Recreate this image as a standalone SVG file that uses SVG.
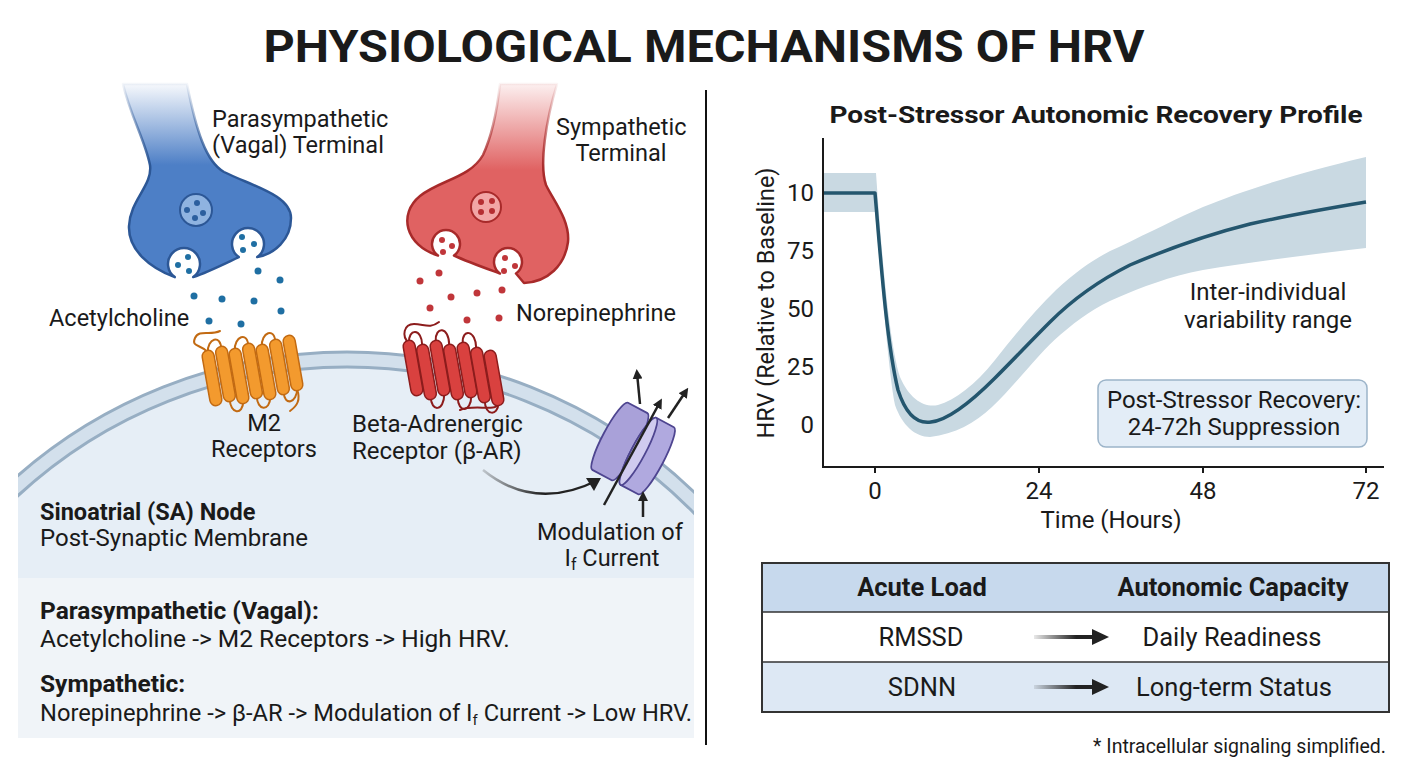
<svg xmlns="http://www.w3.org/2000/svg" width="1408" height="768" viewBox="0 0 1408 768">
<style>
.t{font-family:Roboto,"Liberation Sans",Arial,sans-serif;fill:#1a1a1a}
.l{font-size:23.5px}
.c{font-size:24px}
.b{font-weight:700}
.mid{text-anchor:middle}
.end{text-anchor:end}
.hxO{fill:#f39a2e;stroke:#c26a12;stroke-width:1.5}
.hxR{fill:#d9413f;stroke:#8c1c1c;stroke-width:1.5}
.lpO{fill:none;stroke:#c26a12;stroke-width:2;stroke-linecap:round}
.lpR{fill:none;stroke:#8c1c1c;stroke-width:2;stroke-linecap:round}
.ach{fill:#1f6fa3}
.ne{fill:#c0363a}
.arw{fill:none;stroke:#222;stroke-width:2.5;marker-end:url(#ah)}
.grid{stroke:#1a1a1a;stroke-width:2;fill:none}
.ch{stroke:#4e4590;stroke-width:1.8}
</style>
<defs>
<marker id="ah" viewBox="0 0 10 10" refX="6" refY="5" markerWidth="4" markerHeight="4" orient="auto"><path d="M0,0 L10,5 L0,10 z" fill="#222"/></marker>
<linearGradient id="blueG" gradientUnits="userSpaceOnUse" x1="0" y1="84" x2="0" y2="165"><stop offset="0" stop-color="#4d7fc6" stop-opacity="0.05"/><stop offset="1" stop-color="#4d7fc6"/></linearGradient>
<linearGradient id="blueS" gradientUnits="userSpaceOnUse" x1="0" y1="84" x2="0" y2="165"><stop offset="0" stop-color="#2c5796" stop-opacity="0.05"/><stop offset="1" stop-color="#2c5796"/></linearGradient>
<linearGradient id="redG" gradientUnits="userSpaceOnUse" x1="0" y1="84" x2="0" y2="170"><stop offset="0" stop-color="#e06262" stop-opacity="0.1"/><stop offset="1" stop-color="#e06262"/></linearGradient>
<linearGradient id="redS" gradientUnits="userSpaceOnUse" x1="0" y1="84" x2="0" y2="170"><stop offset="0" stop-color="#a82a2a" stop-opacity="0.05"/><stop offset="1" stop-color="#a82a2a"/></linearGradient>
<linearGradient id="curveG" gradientUnits="userSpaceOnUse" x1="483" y1="0" x2="600" y2="0"><stop offset="0" stop-color="#222" stop-opacity="0.2"/><stop offset="0.5" stop-color="#222"/></linearGradient>
<linearGradient id="tabG" x1="0" y1="0" x2="1" y2="0"><stop offset="0" stop-color="#222" stop-opacity="0.1"/><stop offset="0.7" stop-color="#222"/></linearGradient>
<clipPath id="cellClip"><rect x="18" y="300" width="676" height="278"/></clipPath>
</defs>

<rect width="1408" height="768" fill="#ffffff"/>

<text class="t b mid" x="704" y="62" font-size="44" textLength="881" lengthAdjust="spacingAndGlyphs">PHYSIOLOGICAL MECHANISMS OF HRV</text>

<line x1="706" y1="90" x2="706" y2="745" stroke="#111" stroke-width="2"/>

<!-- Cell -->
<g id="cell">
<g clip-path="url(#cellClip)">
<circle cx="347" cy="852" r="500" fill="#d3e0ec" stroke="#97aec3" stroke-width="3"/>
<circle cx="347" cy="852" r="485" fill="#e6eef6" stroke="#97aec3" stroke-width="3"/>
</g>
<text class="t b" x="40" y="520" font-size="23.5">Sinoatrial (SA) Node</text>
<text class="t" x="40" y="546" font-size="24">Post-Synaptic Membrane</text>
</g>

<!-- Summary panel -->
<g id="summary">
<rect x="18" y="578" width="676" height="160" fill="#f0f4f8"/>
<text class="t b" x="40" y="619" font-size="24.5">Parasympathetic (Vagal):</text>
<text class="t" x="40" y="647" font-size="24.5">Acetylcholine -&gt; M2 Receptors -&gt; High HRV.</text>
<text class="t b" x="40" y="692" font-size="24.5">Sympathetic:</text>
<text class="t" x="40" y="721" font-size="23.7">Norepinephrine -&gt; β-AR -&gt; Modulation of I<tspan font-size="15" dy="4">f</tspan><tspan dy="-4"> Current -&gt; Low HRV.</tspan></text>
</g>

<!-- Parasympathetic terminal -->
<g id="vagal-terminal">
<path d="M123 84 C130 115 145 140 150 165 C153 185 130 200 129 226 C128 250 150 268 174.8 277.1 A16 16 0 1 1 193.2 277.1 C208 272 224 264 238.8 257.1 A16 16 0 1 1 257.2 257.1 C274 254 291 240 291 218 C291 195 252 186 224 172 C206 162 196 130 187 84 Z" fill="url(#blueG)" stroke="url(#blueS)" stroke-width="2.5" stroke-linejoin="round"/>
<circle cx="196" cy="210" r="16" fill="#8fb3e0" stroke="#2c5796" stroke-width="2"/>
<g fill="#2c5f9e"><circle cx="187" cy="210" r="3"/><circle cx="197" cy="203" r="3"/><circle cx="203" cy="213" r="3"/><circle cx="195" cy="218" r="3"/></g>
<g class="ach"><circle cx="178" cy="265" r="3"/><circle cx="188" cy="257" r="3"/><circle cx="189" cy="271" r="3"/><circle cx="242" cy="237" r="3"/><circle cx="254" cy="244" r="3"/><circle cx="243" cy="250" r="3"/></g>
<text class="t l" x="212" y="127">Parasympathetic</text>
<text class="t l" x="212" y="153">(Vagal) Terminal</text>
</g>

<!-- Acetylcholine -->
<g id="acetylcholine">
<g class="ach"><circle cx="194" cy="296" r="3.5"/><circle cx="222" cy="299" r="3.5"/><circle cx="254" cy="301" r="3.5"/><circle cx="280" cy="280" r="3.5"/><circle cx="258" cy="271" r="3.5"/><circle cx="281" cy="311" r="3.5"/><circle cx="209" cy="321" r="3.5"/><circle cx="241" cy="324" r="3.5"/></g>
<text class="t l" x="49" y="326">Acetylcholine</text>
</g>

<!-- Sympathetic terminal -->
<g id="sympathetic-terminal">
<path d="M500 84 C496 120 490 140 483 155 C470 178 440 180 420 196 C398 214 405 245 438 255.5 A14 14 0 1 1 454 255.5 C468 262 485 268 500 273.5 A14 14 0 1 1 516 273.5 L524 283 C548 282 565 265 568 242 C570 220 553 200 546 185 C539 165 546 120 557 84 Z" fill="url(#redG)" stroke="url(#redS)" stroke-width="2.5" stroke-linejoin="round"/>
<circle cx="486" cy="207" r="15" fill="#f2a6a6" stroke="#a82a2a" stroke-width="2"/>
<g fill="#b52e32"><circle cx="481" cy="202" r="3"/><circle cx="492" cy="201" r="3"/><circle cx="481" cy="212" r="3"/><circle cx="492" cy="211" r="3"/></g>
<g class="ne"><circle cx="442" cy="240" r="3"/><circle cx="452" cy="246" r="3"/><circle cx="443" cy="252" r="3"/><circle cx="505" cy="258" r="3"/><circle cx="515" cy="266" r="3"/><circle cx="504" cy="271" r="3"/></g>
<text class="t l" x="556" y="135">Sympathetic</text>
<text class="t l mid" x="621" y="161">Terminal</text>
</g>

<!-- Norepinephrine -->
<g id="norepinephrine">
<g class="ne"><circle cx="420" cy="281" r="3.5"/><circle cx="439" cy="273" r="3.5"/><circle cx="430" cy="308" r="3.5"/><circle cx="451" cy="297" r="3.5"/><circle cx="477" cy="293" r="3.5"/><circle cx="502" cy="290" r="3.5"/><circle cx="467" cy="320" r="3.5"/><circle cx="499" cy="318" r="3.5"/></g>
<text class="t l" x="516" y="321">Norepinephrine</text>
</g>

<!-- M2 receptor -->
<g id="m2-receptor">
<path class="lpO" d="M207.7 352 C200 344 191 347 195 338 C199 329 210 336 220 331"/>
<path class="lpO" d="M207.7 353 C207 338 221 334 221.2 349"/>
<path class="lpO" d="M234.7 351 C234 336 248 331 248.2 346"/>
<path class="lpO" d="M261.7 347 C261 332 275 327 275.2 342"/>
<path class="lpO" d="M229.8 399 C230 414 243 416 243.3 401"/>
<path class="lpO" d="M256.8 396 C257 411 270 412 270.3 397"/>
<path class="lpO" d="M283.8 392 C284 406 297 404 297.3 388"/>
<path class="lpO" d="M297 389 C301 400 297 406 290 411"/>
<rect class="hxO" x="206" y="350" width="12" height="56" rx="6" transform="rotate(-10 212 378)"/>
<rect class="hxO" x="219.5" y="346" width="12" height="56" rx="6" transform="rotate(-10 225.5 374)"/>
<rect class="hxO" x="233" y="348" width="12" height="56" rx="6" transform="rotate(-10 239 376)"/>
<rect class="hxO" x="246.5" y="343" width="12" height="56" rx="6" transform="rotate(-10 252.5 371)"/>
<rect class="hxO" x="260" y="344" width="12" height="56" rx="6" transform="rotate(-10 266 372)"/>
<rect class="hxO" x="273.5" y="339" width="12" height="56" rx="6" transform="rotate(-10 279.5 367)"/>
<rect class="hxO" x="287" y="335" width="12" height="56" rx="6" transform="rotate(-10 293 363)"/>
<text class="t l mid" x="264" y="431">M2</text>
<text class="t l mid" x="264" y="457">Receptors</text>
</g>

<!-- Beta-adrenergic receptor -->
<g id="beta-ar">
<path class="lpR" d="M409 343 C401 336 404 324 414 324 C424 324 430 329 439 322"/>
<path class="lpR" d="M409 343 C408 328 422 328 422.2 345"/>
<path class="lpR" d="M435.7 341 C435 326 449 326 449.2 345"/>
<path class="lpR" d="M462.7 343 C462 328 476 330 476.2 348"/>
<path class="lpR" d="M430.8 397 C431 412 444 412 444.3 394"/>
<path class="lpR" d="M457.8 398 C458 413 471 413 471.3 396"/>
<path class="lpR" d="M484.8 401 C485 416 498 416 498.3 404"/>
<path class="lpR" d="M498 404 C496 412 474 404 460 410"/>
<rect class="hxR" x="407" y="340" width="12" height="56" rx="6" transform="rotate(-10 413 368)"/>
<rect class="hxR" x="420.5" y="344" width="12" height="56" rx="6" transform="rotate(-10 426.5 372)"/>
<rect class="hxR" x="434" y="340" width="12" height="56" rx="6" transform="rotate(-10 440 368)"/>
<rect class="hxR" x="447.5" y="344" width="12" height="56" rx="6" transform="rotate(-10 453.5 372)"/>
<rect class="hxR" x="461" y="342" width="12" height="56" rx="6" transform="rotate(-10 467 370)"/>
<rect class="hxR" x="474.5" y="347" width="12" height="56" rx="6" transform="rotate(-10 480.5 375)"/>
<rect class="hxR" x="488" y="350" width="12" height="56" rx="6" transform="rotate(-10 494 378)"/>
<text class="t" x="352" y="432" font-size="24">Beta-Adrenergic</text>
<text class="t" x="352" y="459" font-size="24">Receptor (β-AR)</text>
</g>

<!-- If channel -->
<g id="if-channel">
<g transform="translate(634 449) rotate(28)">
<path class="ch" d="M-27 -38 H-5 A7 38 0 0 1 -5 38 H-27 A7 38 0 0 1 -27 -38 Z" fill="#a9a1d9"/>
<path class="ch" d="M5 -38 H25 A7 38 0 0 1 25 38 H5 A7 38 0 0 1 5 -38 Z" fill="#b0a9df"/>
<ellipse class="ch" cx="5" cy="0" rx="7" ry="38" fill="#d0cbef"/>
</g>
<text class="t l mid" x="610" y="540">Modulation of</text>
<text class="t l mid" x="612" y="566">I<tspan font-size="16" dy="4">f</tspan><tspan dy="-4"> Current</tspan></text>
</g>

<!-- Chart -->
<g id="chart">
<text class="t b mid" x="1096" y="123" font-size="24" textLength="533" lengthAdjust="spacingAndGlyphs">Post-Stressor Autonomic Recovery Profile</text>
<path d="M823 173 H876 C880 230 888 340 900 377 C910 400 925 408 938 405 C955 400 975 385 995 360 C1015 335 1035 310 1056 290 C1080 268 1100 255 1119 247 C1150 232 1180 217 1203 207 C1240 192 1290 175 1366 157 L1366 248 C1300 256 1250 262 1203 270 C1170 276 1140 288 1119 297 C1095 307 1080 318 1060 335 C1040 352 1015 385 992 407 C975 423 955 434 930 437 C915 437 902 425 895 405 C888 370 880 260 875 212 H823 Z" fill="#c9d9e2"/>
<path d="M823 193 H875 C880 250 886 340 898 390 C906 415 918 424 931 422 C950 420 975 398 995 378 C1015 358 1030 342 1050 322 C1075 297 1100 280 1130 265 C1170 248 1210 234 1250 224 C1290 215 1330 208 1366 202" fill="none" stroke="#24566e" stroke-width="3.5" stroke-linejoin="round"/>
<path class="grid" d="M823 138 V467 H1384"/>
<path class="grid" d="M875 467 v6 M1039 467 v6 M1203 467 v6 M1366 467 v6"/>
<g class="t c end"><text x="814" y="201">10</text><text x="814" y="259">75</text><text x="814" y="317">50</text><text x="814" y="375">25</text><text x="814" y="433">0</text></g>
<g class="t c mid"><text x="875" y="499">0</text><text x="1039" y="499">24</text><text x="1203" y="499">48</text><text x="1366" y="499">72</text></g>
<text class="t c mid" x="1111" y="528">Time (Hours)</text>
<text class="t c mid" transform="translate(774 303) rotate(-90)" textLength="271" lengthAdjust="spacingAndGlyphs">HRV (Relative to Baseline)</text>
<text class="t c mid" x="1268" y="300">Inter-individual</text>
<text class="t c mid" x="1268" y="328">variability range</text>
<rect x="1098" y="380" width="269" height="67" rx="8" fill="#e3edf7" stroke="#9cb4c9" stroke-width="1.5"/>
<text class="t c mid" x="1234" y="408">Post-Stressor Recovery:</text>
<text class="t c mid" x="1234" y="435">24-72h Suppression</text>
</g>

<!-- Table -->
<g id="table">
<rect x="762" y="563" width="627" height="49" fill="#c7d9ed"/>
<rect x="762" y="612" width="627" height="50" fill="#ffffff"/>
<rect x="762" y="662" width="627" height="50" fill="#dde8f4"/>
<path d="M762 612 H1389 M762 662 H1389" stroke="#333" stroke-width="1.5"/>
<rect x="762" y="563" width="627" height="149" fill="none" stroke="#333" stroke-width="2"/>
<text class="t b mid" x="922" y="596" font-size="25.5">Acute Load</text>
<text class="t b mid" x="1233" y="596" font-size="25.5">Autonomic Capacity</text>
<text class="t mid" x="921" y="646" font-size="25.5">RMSSD</text>
<text class="t mid" x="1232" y="646" font-size="25.5">Daily Readiness</text>
<text class="t mid" x="922" y="696" font-size="25.5">SDNN</text>
<text class="t mid" x="1234" y="696" font-size="25.5">Long-term Status</text>
</g>

<text class="t end" x="1386" y="753" font-size="19.5">* Intracellular signaling simplified.</text>

<!-- Connectors -->
<g id="connectors">
<path d="M483 470 Q535 512 598 480" fill="none" stroke="url(#curveG)" stroke-width="2.5"/>
<path d="M586 478 L601 478 L594 491 Z" fill="#222"/>
<path class="arw" d="M604 505 L660 402"/>
<path class="arw" d="M640 404 L637 373"/>
<path class="arw" d="M668 418 L686 391"/>
<path class="arw" d="M643 517 L643 495"/>
<rect x="1034" y="635" width="60" height="4" fill="url(#tabG)"/>
<path d="M1092 629 L1109 637 L1092 645 Z" fill="#222"/>
<rect x="1034" y="685" width="60" height="4" fill="url(#tabG)"/>
<path d="M1092 679 L1109 687 L1092 695 Z" fill="#222"/>
</g>
</svg>
